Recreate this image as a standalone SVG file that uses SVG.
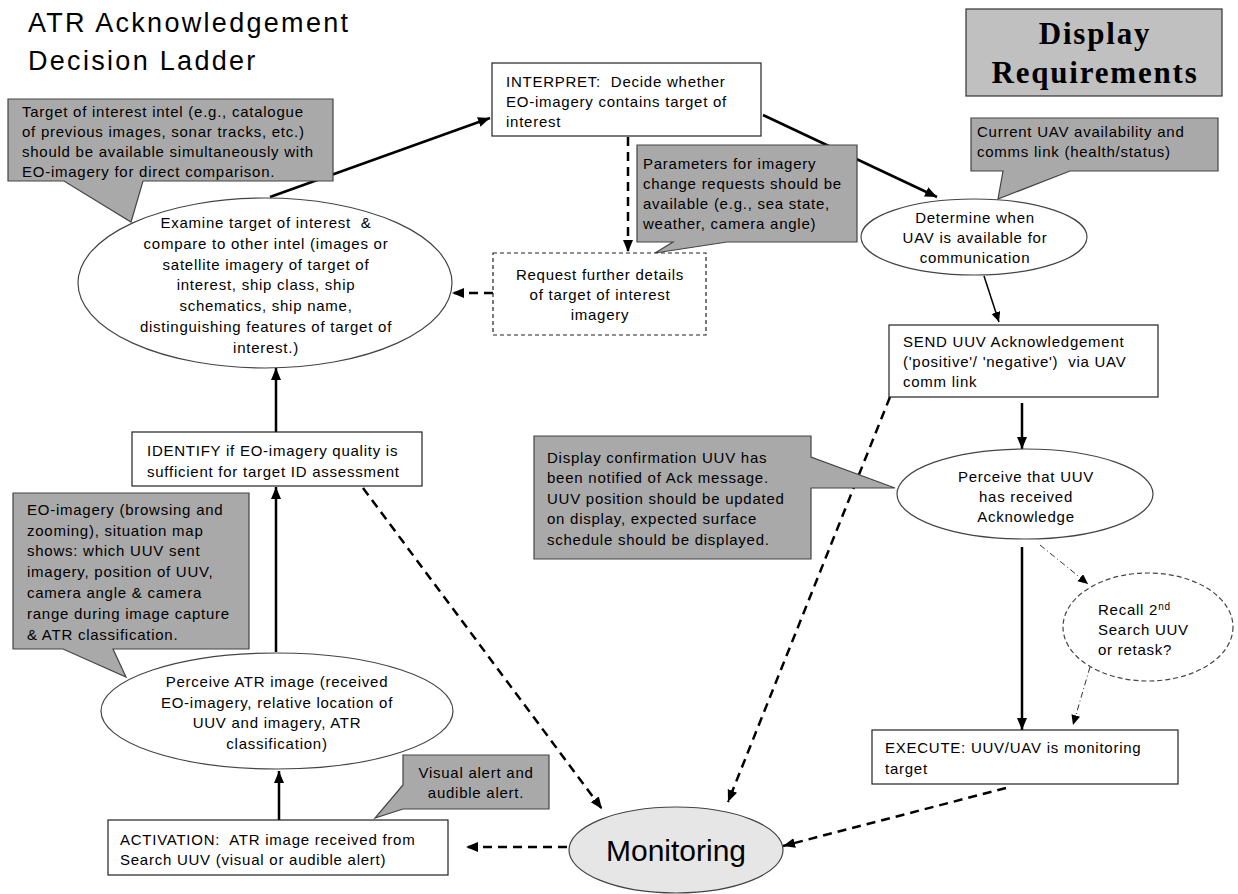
<svg xmlns="http://www.w3.org/2000/svg" width="1238" height="894" viewBox="0 0 1238 894">
<style>
.t{font-family:"Liberation Sans",Arial,sans-serif;font-size:15px;letter-spacing:0.75px;fill:#000;white-space:pre}
.c{text-anchor:middle}
.title{font-family:"Liberation Sans",Arial,sans-serif;font-size:27px;letter-spacing:2.3px;fill:#000}
.dr{font-family:"Liberation Serif","Times New Roman",serif;font-size:31px;font-weight:bold;letter-spacing:1.8px;text-anchor:middle;fill:#000}
.box{fill:#fff;stroke:#222;stroke-width:1.2}
.dbox{fill:#fff;stroke:#222;stroke-width:1.2;stroke-dasharray:4 3}
.ell{fill:#fff;stroke:#444;stroke-width:1.2}
.call{fill:#a9a9a9;stroke:#444;stroke-width:1.2}
.solid{fill:none;stroke:#000;stroke-width:2.5}
.thin{fill:none;stroke:#000;stroke-width:1.5}
.dash{fill:none;stroke:#000;stroke-width:2.5;stroke-dasharray:9 6}
.dd{fill:none;stroke:#333;stroke-width:1;stroke-dasharray:6 3 1 3}
</style>
<defs>
<marker id="ah" markerUnits="userSpaceOnUse" markerWidth="14" markerHeight="12" refX="12" refY="5" orient="auto">
<path d="M0,0 L12,5 L0,10 Z" fill="#000"/>
</marker>
<marker id="ahs" markerUnits="userSpaceOnUse" markerWidth="12" markerHeight="10" refX="10" refY="4.5" orient="auto">
<path d="M0,0 L10,4.5 L0,9 Z" fill="#000"/>
</marker>
</defs>
<rect width="1238" height="894" fill="#fff"/>

<g id="title">
<text class="title" x="28" y="32">ATR Acknowledgement</text>
<text class="title" x="28" y="70">Decision Ladder</text>
</g>

<g id="display-requirements">
<rect x="966" y="9" width="256" height="87" fill="#c0c0c0" stroke="#333" stroke-width="1.2"/>
<text class="dr" x="1095" y="44">Display</text>
<text class="dr" x="1095" y="83">Requirements</text>
</g>

<g id="connectors">
<line class="solid" x1="270" y1="197" x2="490" y2="118" marker-end="url(#ah)"/>
<line class="solid" x1="763" y1="115" x2="937" y2="197" marker-end="url(#ah)"/>
<line class="dash" x1="628" y1="137" x2="628" y2="252" marker-end="url(#ah)"/>
<line class="dash" x1="493" y1="293" x2="452" y2="293" marker-end="url(#ah)"/>
<line class="thin" x1="984" y1="276" x2="999" y2="322" marker-end="url(#ahs)"/>
<line class="solid" x1="1022" y1="403" x2="1022" y2="449" marker-end="url(#ah)"/>
<line class="solid" x1="1022" y1="547" x2="1022" y2="730" marker-end="url(#ah)"/>
<line class="dd" x1="1040" y1="545" x2="1088" y2="584" marker-end="url(#ahs)"/>
<line class="dd" x1="1090" y1="667" x2="1073" y2="725" marker-end="url(#ahs)"/>
<line class="dash" x1="1006" y1="788" x2="783" y2="846" marker-end="url(#ah)"/>
<line class="dash" x1="567" y1="847" x2="466" y2="847" marker-end="url(#ah)"/>
<line class="solid" x1="279" y1="820" x2="279" y2="771" marker-end="url(#ah)"/>
<line class="solid" x1="276" y1="652" x2="276" y2="487" marker-end="url(#ah)"/>
<line class="solid" x1="276" y1="432" x2="276" y2="368" marker-end="url(#ah)"/>
<line class="dash" x1="363" y1="488" x2="602" y2="809" marker-end="url(#ah)"/>
<line class="dash" x1="890" y1="397" x2="728" y2="802" marker-end="url(#ah)"/>
</g>

<g id="callout-target-intel">
<path class="call" d="M8,99 H333 V181 H143 L131,222 L64,181 H8 Z"/>
<text class="t" x="22" y="117">Target of interest intel (e.g., catalogue</text>
<text class="t" x="22" y="137">of previous images, sonar tracks, etc.)</text>
<text class="t" x="22" y="157">should be available simultaneously with</text>
<text class="t" x="22" y="177">EO-imagery for direct comparison.</text>
</g>

<g id="examine">
<ellipse class="ell" cx="265" cy="283" rx="187" ry="85"/>
<text class="t c" x="266" y="228">Examine target of interest  &amp;</text>
<text class="t c" x="266" y="249">compare to other intel (images or</text>
<text class="t c" x="266" y="270">satellite imagery of target of</text>
<text class="t c" x="266" y="290">interest, ship class, ship</text>
<text class="t c" x="266" y="311">schematics, ship name,</text>
<text class="t c" x="266" y="332">distinguishing features of target of</text>
<text class="t c" x="266" y="353">interest.)</text>
</g>

<g id="interpret">
<rect class="box" x="492" y="63" width="269" height="73"/>
<text class="t" x="506" y="87">INTERPRET:  Decide whether</text>
<text class="t" x="506" y="107">EO-imagery contains target of</text>
<text class="t" x="506" y="127">interest</text>
</g>

<g id="callout-parameters">
<path class="call" d="M637,145 H857 V242 H727 L655,253 L673,242 H637 Z"/>
<text class="t" x="643" y="169">Parameters for imagery</text>
<text class="t" x="643" y="189">change requests should be</text>
<text class="t" x="643" y="209">available (e.g., sea state,</text>
<text class="t" x="643" y="229">weather, camera angle)</text>
</g>

<g id="request">
<rect class="dbox" x="493" y="253" width="213" height="82"/>
<text class="t c" x="600" y="280">Request further details</text>
<text class="t c" x="600" y="300">of target of interest</text>
<text class="t c" x="600" y="320">imagery</text>
</g>

<g id="callout-uav">
<path class="call" d="M971,118 H1218 V171 H1070 L998,199 L1003,171 H971 Z"/>
<text class="t" x="977" y="137">Current UAV availability and</text>
<text class="t" x="977" y="157">comms link (health/status)</text>
</g>

<g id="determine">
<ellipse class="ell" cx="974" cy="237" rx="113" ry="38"/>
<text class="t c" x="975" y="223">Determine when</text>
<text class="t c" x="975" y="243">UAV is available for</text>
<text class="t c" x="975" y="263">communication</text>
</g>

<g id="send">
<rect class="box" x="889" y="325" width="269" height="72"/>
<text class="t" x="903" y="347">SEND UUV Acknowledgement</text>
<text class="t" x="903" y="367">('positive'/ 'negative')  via UAV</text>
<text class="t" x="903" y="387">comm link</text>
</g>

<g id="callout-confirmation">
<path class="call" d="M534,436 H811 V457 L895,488 H811 V559 H534 Z"/>
<text class="t" x="547" y="463">Display confirmation UUV has</text>
<text class="t" x="547" y="483">been notified of Ack message.</text>
<text class="t" x="547" y="504">UUV position should be updated</text>
<text class="t" x="547" y="524">on display, expected surface</text>
<text class="t" x="547" y="545">schedule should be displayed.</text>
</g>

<g id="perceive-uuv">
<ellipse class="ell" cx="1025" cy="494" rx="128" ry="45"/>
<text class="t c" x="1026" y="482">Perceive that UUV</text>
<text class="t c" x="1026" y="502">has received</text>
<text class="t c" x="1026" y="522">Acknowledge</text>
</g>

<g id="recall">
<ellipse cx="1148" cy="627" rx="85" ry="54" fill="#fff" stroke="#444" stroke-width="1.2" stroke-dasharray="5 3"/>
<text class="t" x="1098" y="615">Recall 2<tspan font-size="10" dy="-5">nd</tspan></text>
<text class="t" x="1098" y="635">Search UUV</text>
<text class="t" x="1098" y="655">or retask?</text>
</g>

<g id="execute">
<rect class="box" x="872" y="730" width="306" height="54"/>
<text class="t" x="885" y="753">EXECUTE: UUV/UAV is monitoring</text>
<text class="t" x="885" y="774">target</text>
</g>

<g id="identify">
<rect class="box" x="132" y="432" width="290" height="54"/>
<text class="t" x="147" y="456">IDENTIFY if EO-imagery quality is</text>
<text class="t" x="147" y="477">sufficient for target ID assessment</text>
</g>

<g id="callout-eo">
<path class="call" d="M13,493 H249 V649 H113 L126,677 L63,649 H13 Z"/>
<text class="t" x="27" y="515">EO-imagery (browsing and</text>
<text class="t" x="27" y="536">zooming), situation map</text>
<text class="t" x="27" y="556">shows: which UUV sent</text>
<text class="t" x="27" y="577">imagery, position of UUV,</text>
<text class="t" x="27" y="598">camera angle &amp; camera</text>
<text class="t" x="27" y="619">range during image capture</text>
<text class="t" x="27" y="640">&amp; ATR classification.</text>
</g>

<g id="perceive-atr">
<ellipse class="ell" cx="277" cy="711" rx="176" ry="58"/>
<text class="t c" x="277" y="687">Perceive ATR image (received</text>
<text class="t c" x="277" y="708">EO-imagery, relative location of</text>
<text class="t c" x="277" y="728">UUV and imagery, ATR</text>
<text class="t c" x="277" y="749">classification)</text>
</g>

<g id="callout-alert">
<path class="call" d="M403,755 H549 V809 H403 L375,818 L403,785 Z"/>
<text class="t c" x="476" y="778">Visual alert and</text>
<text class="t c" x="476" y="798">audible alert.</text>
</g>

<g id="activation">
<rect class="box" x="108" y="820" width="340" height="55"/>
<text class="t" x="120" y="845">ACTIVATION:  ATR image received from</text>
<text class="t" x="120" y="865">Search UUV (visual or audible alert)</text>
</g>

<g id="monitoring">
<ellipse cx="676" cy="850" rx="107" ry="43" fill="#e6e6e6" stroke="#444" stroke-width="1.2"/>
<text x="676" y="861" text-anchor="middle" font-family="'Liberation Sans',Arial,sans-serif" font-size="30">Monitoring</text>
</g>
</svg>
